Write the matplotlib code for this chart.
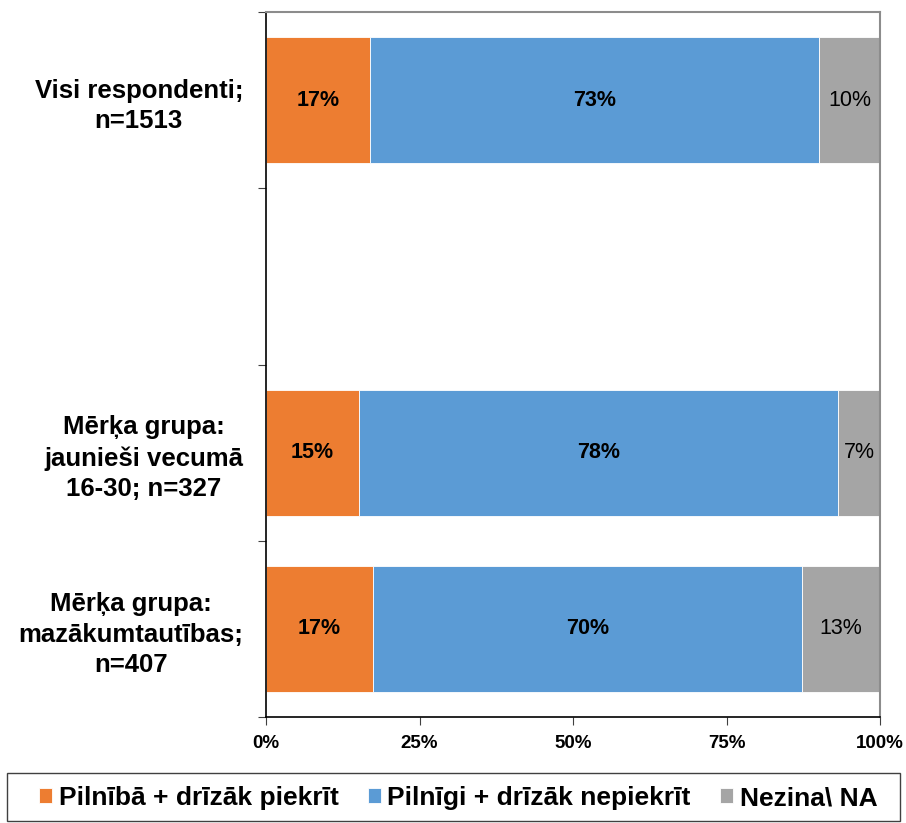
import matplotlib
matplotlib.use("Agg")
import matplotlib.pyplot as plt
from matplotlib.patches import Rectangle
import numpy as np

plt.rcParams['font.family'] = ['Liberation Sans', 'DejaVu Sans']

categories = ["Visi respondenti;\nn=1513", "", "Mērķa grupa:\njaunieši vecumā\n16-30; n=327",
              "Mērķa grupa:\nmazākumtautības;\nn=407"]
series_names = ["Pilnībā + drīzāk piekrīt", "Pilnīgi + drīzāk nepiekrīt", "Nezina\\ NA"]
agree = [16.9, np.nan, 15.1, 17.4]
disagree = [73.2, np.nan, 78.1, 69.9]
dontknow = [9.9, np.nan, 6.8, 12.7]
colors = ["#ED7D31", "#5B9BD5", "#A5A5A5"]
x_ticks = [0, 25, 50, 75, 100]

W, H = 906, 823
fig = plt.figure(figsize=(W/100, H/100), dpi=100)
ax = fig.add_axes([266/W, 1-717/H, (880-266)/W, (717-12)/H])

ypos = np.arange(len(categories))
left = np.zeros(len(categories))
series = [agree, disagree, dontknow]
handles = []
for i, (vals, col) in enumerate(zip(series, colors)):
    v = np.array(vals, dtype=float)
    mask = ~np.isnan(v)
    bars = ax.barh(ypos[mask], v[mask], left=left[mask], height=0.716, color=col,
                   edgecolor='white', linewidth=0.6, label=series_names[i])
    handles.append(bars)
    for b, val in zip(bars, v[mask]):
        ax.text(b.get_x() + b.get_width()/2, b.get_y() + b.get_height()/2,
                f"{round(val):d}%", ha='center', va='center',
                fontsize=15.5, fontweight='normal' if i == 2 else 'bold', color='black')
    left[mask] += v[mask]

ax.set_xlim(0, 100)
ax.set_ylim(len(categories) - 0.5, -0.5)
ax.set_xticks(x_ticks)
ax.set_xticklabels([f"{t}%" for t in x_ticks], fontsize=13.5, fontweight='bold')
ax.set_yticks(np.arange(-0.5, len(categories)), labels=[])
ax.set_yticks(ypos, minor=True)
ax.set_yticklabels(categories, minor=True, fontsize=18.5, fontweight='bold',
                   multialignment='center', linespacing=1.35)
ax.tick_params(axis='y', which='minor', length=0, pad=16.5)
ax.tick_params(axis='y', which='major', length=6, color='#404040', direction='out')
ax.tick_params(axis='x', length=6, color='#404040', direction='out', pad=7)

for s in ['top', 'right']:
    ax.spines[s].set_color('#8C8C8C')
    ax.spines[s].set_linewidth(1.5)
for s in ['left', 'bottom']:
    ax.spines[s].set_color('black')
    ax.spines[s].set_linewidth(1.2)

# legend frame
fig.patches.append(Rectangle((7/W, 1-821/H), (900-7)/W, (821-773)/H,
                             transform=fig.transFigure, fill=False,
                             edgecolor='#404040', linewidth=1.0))
leg = fig.legend(handles=handles, labels=series_names, loc='center',
                 bbox_to_anchor=(458/W, 1-798/H), ncol=3,
                 prop={'size': 19, 'weight': 'bold'}, frameon=False,
                 handlelength=0.5, handleheight=0.5,
                 columnspacing=1.1, handletextpad=0.25, borderpad=0.0)

fig.savefig("out.png", dpi=100)
